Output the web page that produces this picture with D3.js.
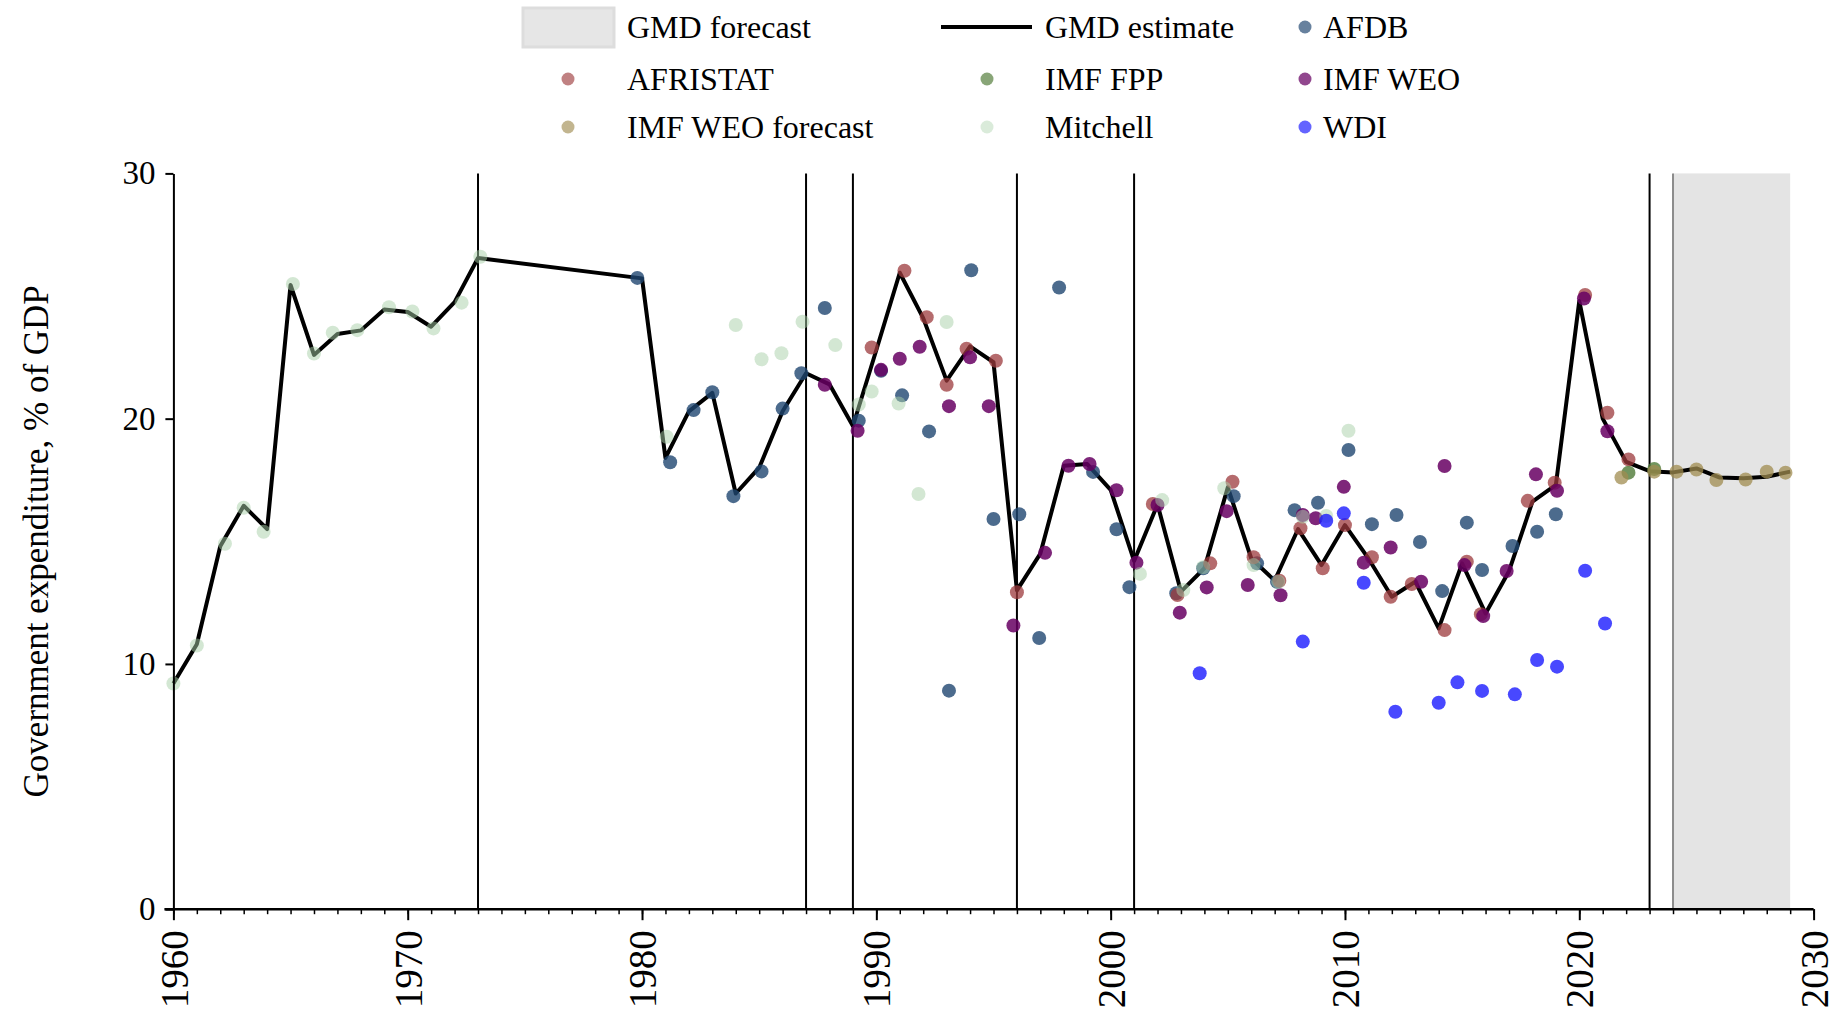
<!DOCTYPE html>
<meta charset="utf-8">
<script src="https://d3js.org/d3.v7.min.js"></script>
<style type="text/css">
body { margin: 0; background: #fff; }
text { font-family: "Liberation Serif", "Times New Roman", serif; fill: #000; }
.gmd { fill: none; stroke: #000; stroke-width: 4; stroke-linejoin: round; }
.vline { stroke: #000; stroke-width: 2; }
.axis path, .axis line { stroke: #000; }
</style>
<body>
</body>
<script>
// GMD estimate line
var gmd_year = [1960,1961,1962,1963,1964,1965,1966,1967,1968,1969,1970,1971,1972,1973,
  1980,1981,1982,1983,1984,1985,1986,1987,1988,1989,1990,1991,1992,1993,1994,1995,1996,1997,1998,1999,
  2000,2001,2002,2003,2004,2005,2006,2007,2008,2009,2010,2011,2012,2013,2014,2015,2016,2017,2018,2019,
  2020,2021,2022,2023,2024,2025,2026,2027,2028,2029];
var gmd_val = [9.2,10.8,14.8,16.45,15.5,25.45,22.6,23.45,23.6,24.45,24.35,23.75,24.75,26.55,
  25.72,18.4,20.3,21.05,16.95,18.0,20.3,21.85,21.4,19.7,22.8,25.95,24.1,21.55,22.95,22.3,13.0,14.5,18.08,18.15,
  17.1,14.2,16.5,12.95,13.9,17.2,14.3,13.4,15.5,14.03,15.66,14.3,12.74,13.35,11.45,14.1,12.06,13.78,16.62,17.3,
  24.8,20.0,18.24,17.86,17.81,17.97,17.6,17.57,17.63,17.84];

// source series
var afdb_year = [1979.8,1981.2,1982.2,1983.0,1983.9,1985.1,1986.0,1986.8,1987.8,1989.25,1990.2,1991.1,1992.25,1993.1,
  1994.05,1995.0,1996.1,1996.95,1997.8,1999.25,2000.25,2000.8,2002.8,2003.95,2005.25,2006.25,2007.1,2007.85,2008.85,
  2010.15,2011.15,2012.2,2013.2,2014.15,2015.2,2015.85,2017.15,2018.2,2019.0];
var afdb_val = [25.74,18.22,20.35,21.08,16.84,17.85,20.41,21.85,24.51,19.92,21.95,20.95,19.48,8.91,
  26.05,15.91,16.1,11.06,25.35,17.83,15.49,13.13,12.88,13.9,16.84,14.1,13.35,16.27,16.57,
  18.72,15.7,16.07,14.97,12.97,15.76,13.83,14.81,15.39,16.1];

var afristat_year = [1989.8,1991.2,1992.15,1993.0,1993.85,1995.1,1996.0,2001.8,2002.85,2004.25,2005.2,2006.1,2007.2,
  2008.1,2009.05,2010.0,2011.15,2011.95,2012.85,2014.25,2015.2,2015.8,2017.8,2018.95,2020.25,2021.2,2022.1];
var afristat_val = [22.9,26.03,24.14,21.38,22.85,22.36,12.92,16.52,12.81,14.1,17.43,14.35,13.39,
  15.53,13.9,15.66,14.35,12.74,13.26,11.38,14.17,12.03,16.65,17.39,25.04,20.24,18.34];

var imffpp_year = [2022.1,2023.2];
var imffpp_val = [17.8,17.95];

var imfweo_year = [1987.8,1989.2,1990.2,1991.0,1991.85,1993.1,1994.0,1994.8,1995.85,1997.2,1998.2,1999.1,2000.25,
  2001.1,2002.0,2002.95,2004.1,2004.95,2005.85,2007.25,2008.2,2008.75,2009.95,2010.8,2011.95,2013.25,2014.25,
  2015.1,2015.9,2016.9,2018.15,2019.05,2020.2,2021.2];
var imfweo_val = [21.38,19.51,21.99,22.44,22.93,20.51,22.5,20.51,11.57,14.53,18.08,18.15,17.08,
  14.13,16.48,12.09,13.12,16.23,13.22,12.8,16.07,15.94,17.22,14.13,14.75,13.35,18.07,
  14.03,11.95,13.79,17.73,17.06,24.9,19.49];

var weofc_year = [2021.8,2023.2,2024.15,2025.0,2025.85,2027.1,2028.0,2028.8];
var weofc_val = [17.6,17.84,17.84,17.93,17.5,17.52,17.84,17.8];

var mitchell_year = [1960,1961,1962.2,1963,1963.85,1965.1,1966,1966.8,1967.85,1969.2,1970.2,1971.1,1972.3,1973.1,
  1981.05,1984,1985.1,1985.95,1986.85,1988.25,1989.25,1989.8,1990.95,1991.8,1993.0,
  2001.25,2002.2,2003.1,2003.95,2004.85,2006.1,2007.15,2008.2,2009.2,2010.15];
var mitchell_val = [9.2,10.75,14.9,16.37,15.39,25.49,22.66,23.5,23.61,24.54,24.37,23.68,24.73,26.6,
  19.26,23.82,22.42,22.67,23.95,23.0,20.58,21.11,20.62,16.93,23.94,
  13.67,16.68,13.01,13.94,17.16,14.03,13.35,16.0,16.03,19.51];

var wdi_year = [2003.8,2008.2,2009.2,2009.95,2010.8,2012.15,2014.0,2014.8,2015.85,2017.25,2018.2,2019.05,2020.25,2021.1];
var wdi_val = [9.62,10.91,15.84,16.14,13.31,8.05,8.42,9.25,8.9,8.76,10.16,9.89,13.8,11.65];

// breaks and forecast band
var break_years = [1973,1987,1989,1996,2001,2023];
var forecast_start = 2024, forecast_end = 2029;

var x_ticks = [1960,1970,1980,1990,2000,2010,2020,2030];
var y_ticks = [0,10,20,30];

var series = [
  {name: "AFDB", years: afdb_year, vals: afdb_val, color: "#1f4670", op: 0.8},
  {name: "AFRISTAT", years: afristat_year, vals: afristat_val, color: "#9c3a3c", op: 0.75},
  {name: "IMF FPP", years: imffpp_year, vals: imffpp_val, color: "#4f7a37", op: 0.8},
  {name: "IMF WEO", years: imfweo_year, vals: imfweo_val, color: "#670063", op: 0.85},
  {name: "IMF WEO forecast", years: weofc_year, vals: weofc_val, color: "#a08c50", op: 0.75},
  {name: "Mitchell", years: mitchell_year, vals: mitchell_val, color: "#a8d0a8", op: 0.5},
  {name: "WDI", years: wdi_year, vals: wdi_val, color: "#1a1aff", op: 0.8}
];

var width = 1837, height = 1016;
var margin = {left: 173.4, right: 1813.6, top: 173.4, bottom: 909.2};

var xScale = d3.scaleLinear().domain([1960, 2030]).range([margin.left, margin.right]);
var yScale = d3.scaleLinear().domain([0, 30]).range([margin.bottom, margin.top]);

var svg = d3.select("body").append("svg")
    .attr("width", width)
    .attr("height", height);

// forecast band
svg.append("rect")
    .attr("x", xScale(forecast_start))
    .attr("y", yScale(30))
    .attr("width", xScale(forecast_end) - xScale(forecast_start))
    .attr("height", yScale(0) - yScale(30))
    .attr("fill", "#e4e4e4");
svg.append("line")
    .attr("x1", xScale(forecast_start)).attr("x2", xScale(forecast_start))
    .attr("y1", yScale(30)).attr("y2", yScale(0))
    .attr("stroke", "#8c8c8c").attr("stroke-width", 2);

// break lines
svg.selectAll(".vline")
    .data(break_years)
  .enter().append("line")
    .attr("class", "vline")
    .attr("x1", function(d) { return xScale(d); })
    .attr("x2", function(d) { return xScale(d); })
    .attr("y1", yScale(30))
    .attr("y2", yScale(0));

// GMD estimate
var line = d3.line()
    .x(function(d, i) { return xScale(gmd_year[i]); })
    .y(function(d) { return yScale(d); });
svg.append("path")
    .datum(gmd_val)
    .attr("class", "gmd")
    .attr("d", line);

// points
series.forEach(function(s) {
  svg.append("g").selectAll("circle")
      .data(s.vals)
    .enter().append("circle")
      .attr("cx", function(d, i) { return xScale(s.years[i]); })
      .attr("cy", function(d) { return yScale(d); })
      .attr("r", 7)
      .attr("fill", s.color)
      .attr("fill-opacity", s.op);
});

// axes
var yAxis = svg.append("g")
    .attr("class", "axis")
    .attr("transform", "translate(" + margin.left + ",0)")
    .call(d3.axisLeft(yScale).tickValues(y_ticks).tickSize(8).tickSizeOuter(0).tickPadding(10));
yAxis.select(".domain").attr("stroke-width", 2);
yAxis.selectAll("line").attr("stroke-width", 2);
yAxis.selectAll("text").style("font-size", "33px").style("font-family", "Liberation Serif");

var minor = d3.range(1960, 2031);
var xMinor = svg.append("g")
    .attr("class", "axis")
    .attr("transform", "translate(0," + margin.bottom + ")")
    .call(d3.axisBottom(xScale).tickValues(minor).tickSize(5).tickSizeOuter(0).tickFormat(""));
xMinor.select(".domain").remove();
xMinor.selectAll("line").attr("stroke-width", 1.5);

var xAxis = svg.append("g")
    .attr("class", "axis")
    .attr("transform", "translate(0," + margin.bottom + ")")
    .call(d3.axisBottom(xScale).tickValues(x_ticks).tickSize(11).tickSizeOuter(0).tickFormat(d3.format("d")));
xAxis.select(".domain").attr("stroke-width", 2.5).attr("d", "M" + (margin.left - 9) + ",0H" + margin.right);
xAxis.selectAll("line").attr("stroke-width", 2);
xAxis.selectAll("text")
    .style("font-size", "39px")
    .style("font-family", "Liberation Serif")
    .style("text-anchor", "end")
    .attr("x", -21)
    .attr("y", 0)
    .attr("dy", "0.35em")
    .attr("transform", "rotate(-90)");

svg.append("text")
    .attr("transform", "translate(48," + ((margin.top + margin.bottom) / 2) + ") rotate(-90)")
    .attr("text-anchor", "middle")
    .style("font-size", "35px")
    .text("Government expenditure, % of GDP");

// legend
var legend_keys = ["GMD forecast", "GMD estimate", "AFDB", "AFRISTAT", "IMF FPP", "IMF WEO", "IMF WEO forecast", "Mitchell", "WDI"];
var col_marker = [568, 987, 1305];
var col_text = [627, 1045, 1323];
var row_y = [27, 79, 127];

var legend = svg.selectAll(".lineLegend")
    .data(legend_keys)
  .enter().append("g")
    .attr("class", "lineLegend")
    .attr("transform", function(d, i) { return "translate(0," + row_y[Math.floor(i / 3)] + ")"; });

legend.append("text")
    .attr("x", function(d, i) { return col_text[i % 3]; })
    .attr("dy", "0.34em")
    .style("font-size", "32px")
    .text(function(d) { return d; });

legend.each(function(d, i) {
  var g = d3.select(this);
  var cx = col_marker[i % 3];
  if (d == "GMD forecast") {
    g.append("rect")
        .attr("x", 523).attr("y", -19).attr("width", 91).attr("height", 39)
        .attr("fill", "#e6e6e6").attr("stroke", "#dddddd").attr("stroke-width", 3);
  } else if (d == "GMD estimate") {
    g.append("line")
        .attr("x1", 941).attr("x2", 1032).attr("y1", 0).attr("y2", 0)
        .attr("stroke", "#000").attr("stroke-width", 4);
  } else {
    var s = series.filter(function(k) { return k.name == d; })[0];
    g.append("circle")
        .attr("cx", cx).attr("cy", 0).attr("r", 6.5)
        .attr("fill", s.color).attr("fill-opacity", s.op * 0.85);
  }
});
</script>
